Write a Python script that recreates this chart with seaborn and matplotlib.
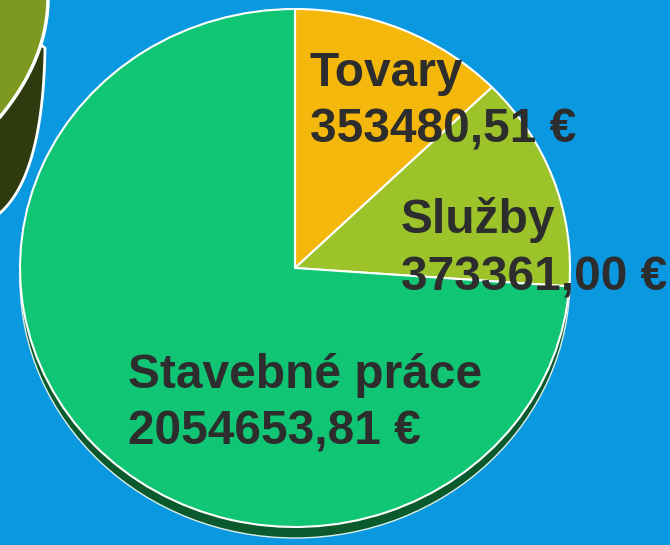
import numpy as np
import matplotlib.pyplot as plt
import seaborn as sns
from matplotlib.patches import Polygon

# údaje
kategorie = ["Tovary", "Služby", "Stavebné práce"]
hodnoty = [353480.51, 373361.00, 2054653.81]
farby = ["#F4B80C", "#9CC42A", "#10C574"]

sns.set_theme(style="white")
plt.rcParams['font.family'] = ['Liberation Sans', 'DejaVu Sans']

W, H = 670, 545
k = 275 / 259  # mierne sploštenie koláča
pozadie = "#0A99E0"

fig = plt.figure(figsize=(W / 100, H / 100), dpi=100, facecolor=pozadie)
ax = fig.add_axes([0, 0, 1, 1])
ax.set_facecolor(pozadie)

def py(y):
    return (H - y) * k

def krivka(p0, p1, p2, n=30):
    t = np.linspace(0, 1, n)[:, None]
    b = (1 - t) ** 2 * np.array(p0) + 2 * t * (1 - t) * np.array(p1) + t ** 2 * np.array(p2)
    return [(x, py(y)) for x, y in b]

# dekorácia vľavo hore (časť iného koláča)
tmavy = [(-20, py(0))] + krivka((45, 48), (43, 175), (0, 213)) + [(-20, py(230))]
olivovy = [(-20, py(-10)), (48, py(-10))] + krivka((48, 0), (47, 60), (0, 117)) + [(-20, py(135))]
ax.add_patch(Polygon(tmavy, closed=True, facecolor="#2F3A0E", edgecolor="white", linewidth=2))
ax.add_patch(Polygon(olivovy, closed=True, facecolor="#7E991F", edgecolor="white", linewidth=2.5))

# tieň pod koláčom
ax.pie([1], colors=["#0B5A2E"], radius=275, center=(295, py(279)),
       wedgeprops=dict(edgecolor="#DDEEE5", linewidth=1))

# koláč
sns.set_palette(farby)
ax.pie(hodnoty, colors=farby, radius=275, center=(295, py(268)),
       startangle=90, counterclock=False,
       wedgeprops=dict(edgecolor="white", linewidth=1.5))

ax.set_aspect('auto')
ax.set_xlim(0, W)
ax.set_ylim(0, H * k)
ax.axis('off')

# popisy
pozicie = [(310, 86, 143), (401, 233, 290), (128, 388, 445)]
for nazov, hod, (x, y1, y2) in zip(kategorie, hodnoty, pozicie):
    text_hod = f"{hod:.2f}".replace('.', ',') + " €"
    ax.text(x, py(y1), nazov, fontsize=34.5, fontweight='bold', color="#2D2D2D",
            ha='left', va='baseline')
    ax.text(x, py(y2), text_hod, fontsize=34.5, fontweight='bold', color="#2D2D2D",
            ha='left', va='baseline')

fig.savefig("out.png", dpi=100, facecolor=pozadie)
